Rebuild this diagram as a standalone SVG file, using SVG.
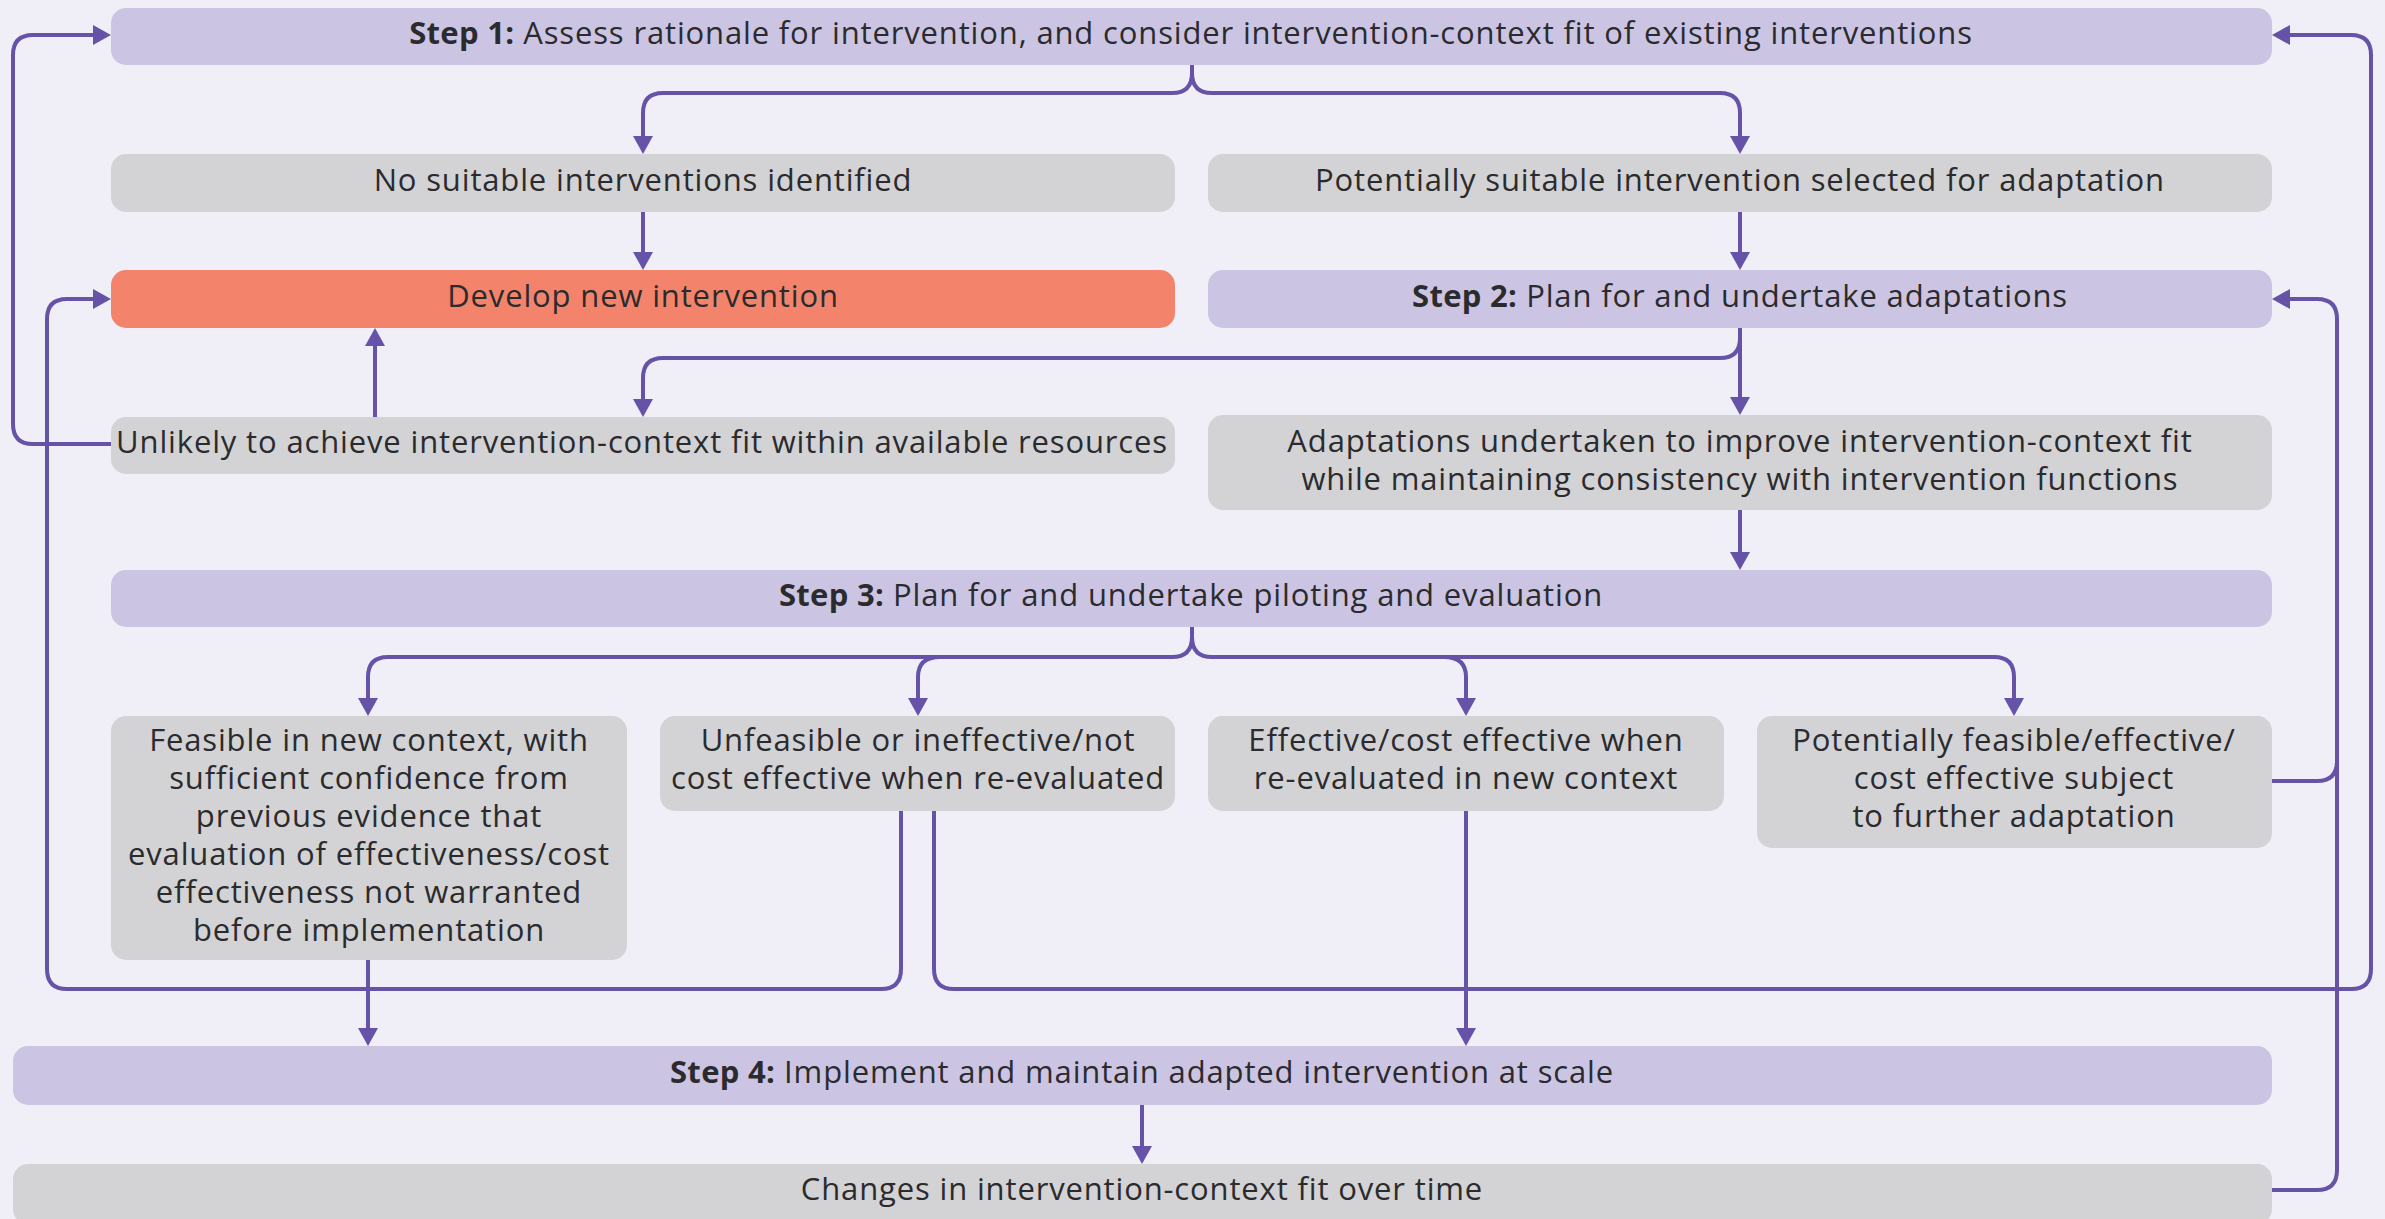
<svg xmlns="http://www.w3.org/2000/svg" width="2385" height="1219" viewBox="0 0 2385 1219">
  <defs>
    <marker id="arrow" markerUnits="userSpaceOnUse" markerWidth="18" markerHeight="20" refX="10" refY="10" orient="auto">
      <path d="M0,0 L18,10 L0,20 Z" fill="#6653A8"/>
    </marker>
  </defs>
  <style>
    .bg { fill: #F0EFF7; }
    .step { fill: #CBC5E3; }
    .grey { fill: #D3D3D5; }
    .new { fill: #F4836B; }
    text { font-family: "Open Sans", "Liberation Sans", sans-serif; font-size: 31px; letter-spacing: 0.85px; fill: #2B2B2E; text-anchor: middle; }
    .b { font-weight: bold; letter-spacing: 0.3px; }
    .links path { fill: none; stroke: #6653A8; stroke-width: 4; }
    .links path.arr { marker-end: url(#arrow); }
  </style>

  <rect class="bg" x="0" y="0" width="2385" height="1219"/>

  <!-- connectors -->
  <g class="links">
    <!-- step 1 split -->
    <path class="arr" d="M1192 64 V73 Q1192 93 1172 93 H663 Q643 93 643 113 V146"/>
    <path class="arr" d="M1192 64 V73 Q1192 93 1212 93 H1720 Q1740 93 1740 113 V146"/>
    <path class="arr" d="M643 212 V262"/>
    <path class="arr" d="M1740 212 V262"/>
    <!-- step 2 split -->
    <path class="arr" d="M1740 328 V407"/>
    <path class="arr" d="M1740 328 V338 Q1740 358 1720 358 H663 Q643 358 643 378 V409"/>
    <path class="arr" d="M375 417 V336"/>
    <path class="arr" d="M111 444 H33 Q13 444 13 424 V55 Q13 35 33 35 H103"/>
    <path class="arr" d="M1740 510 V562"/>
    <!-- step 3 split -->
    <path class="arr" d="M1192 627 V637 Q1192 657 1172 657 H388 Q368 657 368 677 V708"/>
    <path class="arr" d="M940 657 Q918 657 918 677 V708"/>
    <path class="arr" d="M1192 627 V637 Q1192 657 1212 657 H1994 Q2014 657 2014 677 V708"/>
    <path class="arr" d="M1444 657 Q1466 657 1466 677 V708"/>
    <!-- outcomes -->
    <path class="arr" d="M368 960 V1038"/>
    <path class="arr" d="M901 811 V969 Q901 989 881 989 H67 Q47 989 47 969 V319 Q47 299 67 299 H103"/>
    <path class="arr" d="M934 811 V969 Q934 989 954 989 H2351 Q2371 989 2371 969 V55 Q2371 35 2351 35 H2280"/>
    <path class="arr" d="M1466 811 V1038"/>
    <path class="arr" d="M2272 1190 H2317 Q2337 1190 2337 1170 V319 Q2337 299 2317 299 H2280"/>
    <path d="M2272 781 H2317 Q2337 781 2337 761"/>
    <path class="arr" d="M1142 1105 V1156"/>
  </g>

  <g id="step1">
    <rect class="step" x="111" y="8" width="2161" height="57" rx="15"/>
    <text x="1191" y="44"><tspan class="b">Step 1:</tspan> Assess rationale for intervention, and consider intervention-context fit of existing interventions</text>
  </g>
  <g id="no-suitable">
    <rect class="grey" x="111" y="154" width="1064" height="58" rx="15"/>
    <text x="643" y="191">No suitable interventions identified</text>
  </g>
  <g id="potentially-suitable">
    <rect class="grey" x="1208" y="154" width="1064" height="58" rx="15"/>
    <text x="1740" y="191">Potentially suitable intervention selected for adaptation</text>
  </g>
  <g id="develop-new">
    <rect class="new" x="111" y="270" width="1064" height="58" rx="15"/>
    <text x="643" y="307">Develop new intervention</text>
  </g>
  <g id="step2">
    <rect class="step" x="1208" y="270" width="1064" height="58" rx="15"/>
    <text x="1740" y="307"><tspan class="b">Step 2:</tspan> Plan for and undertake adaptations</text>
  </g>
  <g id="unlikely">
    <rect class="grey" x="111" y="417" width="1064" height="57" rx="15"/>
    <text x="642" y="453">Unlikely to achieve intervention-context fit within available resources</text>
  </g>
  <g id="adaptations">
    <rect class="grey" x="1208" y="415" width="1064" height="95" rx="15"/>
    <text x="1740" y="452">Adaptations undertaken to improve intervention-context fit</text>
    <text x="1740" y="490">while maintaining consistency with intervention functions</text>
  </g>
  <g id="step3">
    <rect class="step" x="111" y="570" width="2161" height="57" rx="15"/>
    <text x="1191" y="606"><tspan class="b">Step 3:</tspan> Plan for and undertake piloting and evaluation</text>
  </g>
  <g id="feasible">
    <rect class="grey" x="111" y="716" width="516" height="244" rx="15"/>
    <text x="369" y="751">Feasible in new context, with</text>
    <text x="369" y="789">sufficient confidence from</text>
    <text x="369" y="827">previous evidence that</text>
    <text x="369" y="865">evaluation of effectiveness/cost</text>
    <text x="369" y="903">effectiveness not warranted</text>
    <text x="369" y="941">before implementation</text>
  </g>
  <g id="unfeasible">
    <rect class="grey" x="660" y="716" width="515" height="95" rx="15"/>
    <text x="918" y="751">Unfeasible or ineffective/not</text>
    <text x="918" y="789">cost effective when re-evaluated</text>
  </g>
  <g id="effective">
    <rect class="grey" x="1208" y="716" width="516" height="95" rx="15"/>
    <text x="1466" y="751">Effective/cost effective when</text>
    <text x="1466" y="789">re-evaluated in new context</text>
  </g>
  <g id="potentially-feasible">
    <rect class="grey" x="1757" y="716" width="515" height="132" rx="15"/>
    <text x="2014" y="751">Potentially feasible/effective/</text>
    <text x="2014" y="789">cost effective subject</text>
    <text x="2014" y="827">to further adaptation</text>
  </g>
  <g id="step4">
    <rect class="step" x="13" y="1046" width="2259" height="59" rx="15"/>
    <text x="1142" y="1083"><tspan class="b">Step 4:</tspan> Implement and maintain adapted intervention at scale</text>
  </g>
  <g id="changes">
    <rect class="grey" x="13" y="1164" width="2259" height="60" rx="15"/>
    <text x="1142" y="1200">Changes in intervention-context fit over time</text>
  </g>
</svg>
